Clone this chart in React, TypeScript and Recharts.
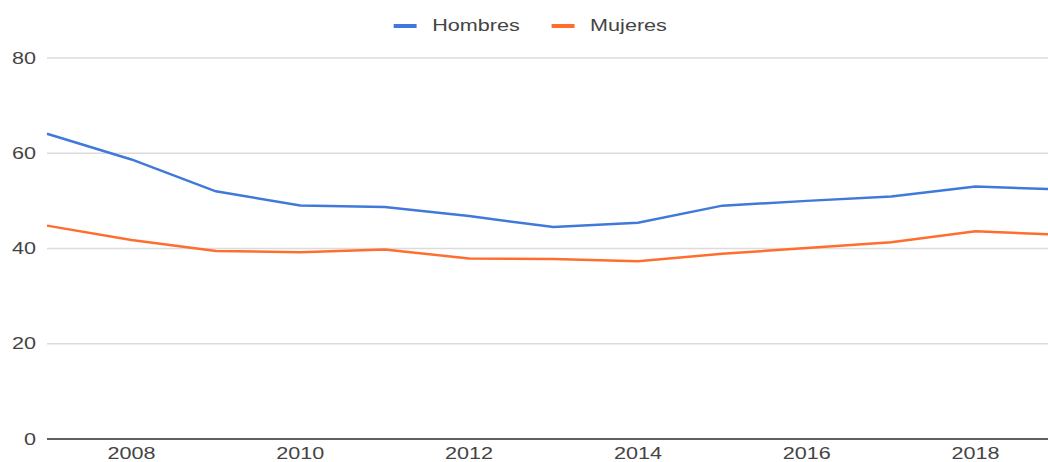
import { LineChart, Line, XAxis, YAxis, CartesianGrid, Legend } from "recharts";

const years = [2007, 2008, 2009, 2010, 2011, 2012, 2013, 2014, 2015, 2016, 2017, 2018, 2019];
const hombres = [64.1, 58.7, 52.0, 49.05, 48.7, 46.8, 44.5, 45.4, 49.0, 50.0, 50.9, 53.0, 52.4];
const mujeres = [44.8, 41.8, 39.5, 39.2, 39.8, 37.9, 37.8, 37.3, 38.9, 40.1, 41.3, 43.6, 42.9];
const xTicks = [2008, 2010, 2012, 2014, 2016, 2018];
const yTicks = [0, 20, 40, 60, 80];

const FONT = "'Liberation Sans', Arial, sans-serif";
const STRETCH = 1.35;

const data = years.map((year, i) => ({ year, Hombres: hombres[i], Mujeres: mujeres[i] }));

const XTick = ({ x, y, payload }: any) => (
  <text
    transform={`translate(${x},${y}) scale(${STRETCH},1)`}
    textAnchor="middle"
    dy="0.71em"
    fill="#444"
    fontSize={16}
    fontFamily={FONT}
  >
    {payload.value}
  </text>
);

const YTick = ({ x, y, payload }: any) => (
  <text
    transform={`translate(${x},${y}) scale(${STRETCH},1)`}
    textAnchor="end"
    dy="0.355em"
    fill="#444"
    fontSize={16}
    fontFamily={FONT}
  >
    {payload.value}
  </text>
);

const LegendContent = ({ payload }: any) => (
  <div
    style={{
      display: "flex",
      justifyContent: "center",
      alignItems: "center",
      height: 20,
      transform: `scaleX(${STRETCH})`,
      fontSize: 16,
      color: "#444",
      fontFamily: FONT,
    }}
  >
    {(payload || []).map((item: any, i: number) => (
      <div key={item.value} style={{ display: "flex", alignItems: "center", marginLeft: i ? 23 : 0 }}>
        <span style={{ width: 17, height: 4, background: item.color, marginRight: 12 }} />
        <span>{item.value}</span>
      </div>
    ))}
  </div>
);

export default function App() {
  return (
    <div style={{ position: "absolute", top: 0, left: 0, width: 1048, height: 462, overflow: "hidden", background: "#fff" }}>
      <LineChart width={1060} height={462} data={data} margin={{ top: 58, right: 0, bottom: 0, left: 0 }}>
        <CartesianGrid vertical={false} stroke="#dcdcdc" strokeWidth={1.5} />
        <XAxis
          dataKey="year"
          type="number"
          domain={[2007, 2019]}
          ticks={xTicks}
          height={23}
          tickLine={false}
          tickSize={6}
          tickMargin={3}
          axisLine={{ stroke: "#333", strokeWidth: 1.5 }}
          tick={<XTick />}
          interval={0}
        />
        <YAxis
          domain={[0, 80]}
          ticks={yTicks}
          width={47}
          axisLine={false}
          tickLine={false}
          tickSize={6}
          tickMargin={5}
          tick={<YTick />}
          interval={0}
        />
        <Legend
          verticalAlign="middle"
          align="center"
          content={<LegendContent />}
          wrapperStyle={{ top: 16, left: 0, width: 1060 }}
        />
        <Line type="linear" dataKey="Hombres" stroke="#4079da" strokeWidth={2.5} dot={false} isAnimationActive={false} />
        <Line type="linear" dataKey="Mujeres" stroke="#ff6d2f" strokeWidth={2.5} dot={false} isAnimationActive={false} />
      </LineChart>
    </div>
  );
}
